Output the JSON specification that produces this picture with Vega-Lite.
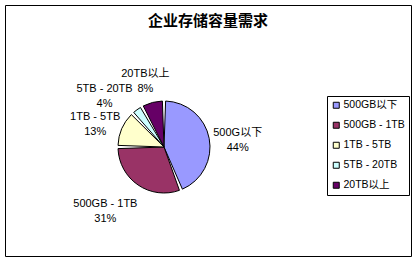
{
  "$schema": "https://vega.github.io/schema/vega-lite/v6.json",
  "width": 406,
  "height": 251,
  "autosize": {"type": "none"},
  "padding": {"left": 5, "top": 5, "right": 6, "bottom": 6},
  "background": "white",
  "view": {"stroke": "black", "strokeWidth": 1, "fill": "white"},
  "title": {
    "text": "企业存储容量需求",
    "font": "Noto Sans CJK SC",
    "fontSize": 15,
    "fontWeight": "bold",
    "color": "black",
    "anchor": "middle",
    "frame": "group",
    "baseline": "middle",
    "offset": 0,
    "dy": 31
  },
  "data": {
    "values": [
      {"category": "500GB以下", "label": "500G以下\n44%", "value": 44, "rank": 1},
      {"category": "500GB - 1TB", "label": "500GB - 1TB\n31%", "value": 31, "rank": 2},
      {"category": "1TB - 5TB", "label": "1TB - 5TB\n13%", "value": 13, "rank": 3},
      {"category": "5TB - 20TB", "label": "5TB - 20TB\n4%", "value": 4, "rank": 4},
      {"category": "20TB以上", "label": "20TB以上\n8%", "value": 8, "rank": 5}
    ]
  },
  "encoding": {
    "theta": {"field": "value", "type": "quantitative", "stack": true},
    "order": {"field": "rank", "type": "quantitative"}
  },
  "layer": [
    {
      "mark": {
        "type": "arc",
        "x": 159,
        "y": 142,
        "outerRadius": 46,
        "padAngle": 0.07,
        "stroke": "black",
        "strokeWidth": 1
      },
      "encoding": {
        "color": {
          "field": "category",
          "type": "nominal",
          "scale": {
            "domain": ["500GB以下", "500GB - 1TB", "1TB - 5TB", "5TB - 20TB", "20TB以上"],
            "range": ["#9999FF", "#993366", "#FFFFCC", "#CCFFFF", "#660066"]
          },
          "legend": {
            "title": null,
            "orient": "none",
            "legendX": 322,
            "legendY": 91,
            "padding": 4,
            "strokeColor": "black",
            "fillColor": "white",
            "symbolType": "square",
            "symbolSize": 36,
            "symbolStrokeColor": "black",
            "symbolStrokeWidth": 1,
            "symbolOpacity": 1,
            "labelFont": "Liberation Sans, Noto Sans CJK SC",
            "labelFontSize": 10.5,
            "labelColor": "black",
            "labelOffset": 2,
            "rowPadding": 9
          }
        }
      }
    },
    {
      "mark": {
        "type": "text",
        "x": 159,
        "y": 142,
        "radius": 75,
        "lineBreak": "\n",
        "lineHeight": 15,
        "align": "center",
        "baseline": "middle",
        "font": "Liberation Sans, Noto Sans CJK SC",
        "fontSize": 11,
        "color": "black"
      },
      "encoding": {
        "text": {"condition": {"test": "datum.rank == 1 || datum.rank == 3 || datum.rank == 5", "field": "label", "type": "nominal"}, "value": ""}
      }
    },
    {
      "mark": {
        "type": "text",
        "x": 159,
        "y": 142,
        "radius": 82,
        "thetaOffset": 0.2,
        "lineBreak": "\n",
        "lineHeight": 15,
        "align": "center",
        "baseline": "middle",
        "font": "Liberation Sans, Noto Sans CJK SC",
        "fontSize": 11,
        "color": "black"
      },
      "encoding": {
        "text": {"condition": {"test": "datum.rank == 2", "field": "label", "type": "nominal"}, "value": ""}
      }
    },
    {
      "mark": {
        "type": "text",
        "x": 159,
        "y": 142,
        "radius": 83,
        "thetaOffset": -0.17,
        "lineBreak": "\n",
        "lineHeight": 15,
        "align": "center",
        "baseline": "middle",
        "font": "Liberation Sans, Noto Sans CJK SC",
        "fontSize": 11,
        "color": "black"
      },
      "encoding": {
        "text": {"condition": {"test": "datum.rank == 4", "field": "label", "type": "nominal"}, "value": ""}
      }
    }
  ]
}
